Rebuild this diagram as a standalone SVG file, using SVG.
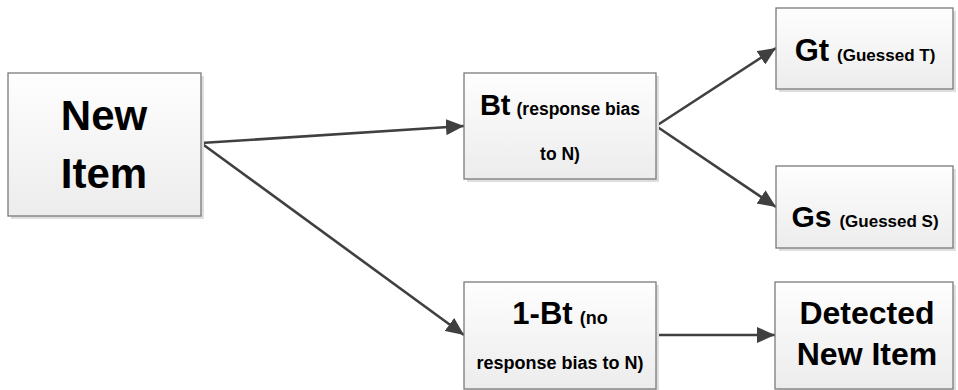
<svg xmlns="http://www.w3.org/2000/svg" width="958" height="390" viewBox="0 0 958 390">
  <defs>
    <linearGradient id="boxFill" x1="0" y1="0" x2="0" y2="1">
      <stop offset="0" stop-color="#fefefe"/>
      <stop offset="1" stop-color="#ececec"/>
    </linearGradient>
    <marker id="arrow" markerUnits="userSpaceOnUse" markerWidth="20" markerHeight="16" refX="18" refY="8" orient="auto">
      <path d="M0,0 L18,8 L0,16 Z" fill="#404040"/>
    </marker>
  </defs>
  <style>
    .shadow { fill: #dedede; }
    .box { fill: url(#boxFill); stroke: #7a7a7a; stroke-width: 1.3; }
    .lbl { font-family: "Liberation Sans", Arial, sans-serif; font-weight: bold; fill: #000; text-anchor: middle; }
    .edge { stroke: #404040; stroke-width: 2.6; fill: none; marker-end: url(#arrow); }
  </style>

  <rect width="958" height="390" fill="#ffffff"/>

  <!-- connectors -->
  <g id="connectors">
    <line class="edge" x1="201" y1="143" x2="464" y2="126"/>
    <line class="edge" x1="201" y1="143" x2="464" y2="335"/>
    <line class="edge" x1="656" y1="126" x2="776" y2="48"/>
    <line class="edge" x1="656" y1="126" x2="776" y2="207"/>
    <line class="edge" x1="656" y1="335" x2="775" y2="335"/>
  </g>

  <!-- New Item -->
  <g id="node-new-item">
    <rect class="shadow" x="11" y="76" width="193" height="143"/>
    <rect class="box" x="8" y="73" width="193" height="143"/>
    <text class="lbl" x="104" y="130" font-size="42">New</text>
    <text class="lbl" x="104" y="188" font-size="42">Item</text>
  </g>

  <!-- Bt -->
  <g id="node-bt">
    <rect class="shadow" x="467" y="76" width="192" height="106"/>
    <rect class="box" x="464" y="73" width="192" height="106"/>
    <text class="lbl" x="560" y="115"><tspan font-size="29">Bt</tspan><tspan font-size="17.5" dx="6">(response bias</tspan></text>
    <text class="lbl" x="560" y="160" font-size="17.5">to N)</text>
  </g>

  <!-- 1-Bt -->
  <g id="node-1bt">
    <rect class="shadow" x="467" y="285" width="192" height="108"/>
    <rect class="box" x="464" y="282" width="192" height="107"/>
    <text class="lbl" x="560" y="324"><tspan font-size="31">1-Bt</tspan><tspan font-size="18" dx="7">(no</tspan></text>
    <text class="lbl" x="560" y="369" font-size="18">response bias to N)</text>
  </g>

  <!-- Gt -->
  <g id="node-gt">
    <rect class="shadow" x="779" y="11" width="177" height="81"/>
    <rect class="box" x="776" y="8" width="177" height="81"/>
    <text class="lbl" x="865" y="61"><tspan font-size="31">Gt</tspan><tspan font-size="17" dx="8">(Guessed T)</tspan></text>
  </g>

  <!-- Gs -->
  <g id="node-gs">
    <rect class="shadow" x="779" y="169" width="177" height="82"/>
    <rect class="box" x="776" y="166" width="177" height="82"/>
    <text class="lbl" x="865" y="227"><tspan font-size="30">Gs</tspan><tspan font-size="17" dx="8">(Guessed S)</tspan></text>
  </g>

  <!-- Detected New Item -->
  <g id="node-detected">
    <rect class="shadow" x="778" y="285" width="178" height="108"/>
    <rect class="box" x="775" y="282" width="178" height="107"/>
    <text class="lbl" x="867" y="324" font-size="32">Detected</text>
    <text class="lbl" x="867" y="365" font-size="32">New Item</text>
  </g>
</svg>
